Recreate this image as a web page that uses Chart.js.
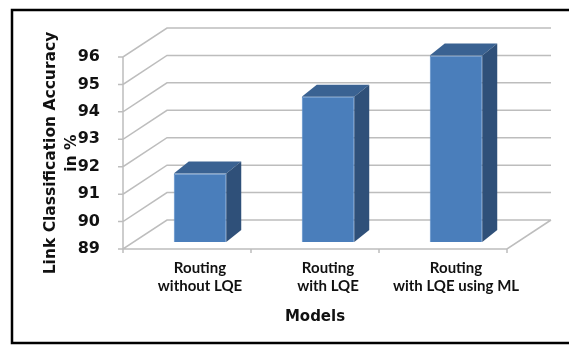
<!DOCTYPE html>
<html>
<head>
<meta charset="utf-8">
<script src="https://cdn.jsdelivr.net/npm/chart.js@4.4.1/dist/chart.umd.min.js"></script>
<style>
  html, body { margin: 0; padding: 0; background: #fff; }
</style>
</head>
<body>
<canvas id="chart" width="569" height="345"></canvas>
<script>
const models = [["Routing", "without LQE"], ["Routing", "with LQE"], ["Routing", "with LQE using ML"]];
const accuracy = [91.5, 94.3, 95.8];
const yTicks = [89, 90, 91, 92, 93, 94, 95, 96];

// fake 3D: back wall offset, bars pushed a bit into the floor, bar depth
const WALL = { dx: 44, dy: -29 };
const SHIFT = { dx: 13, dy: -7 };
const DEPTH = { dx: 15, dy: -12 };

const threeD = {
    id: "threeD",
    beforeDraw(chart) {
        const ctx = chart.ctx;
        ctx.save();
        ctx.fillStyle = "#fff";
        ctx.fillRect(0, 0, chart.width, chart.height);
        ctx.strokeStyle = "#000";
        ctx.lineWidth = 2.5;
        ctx.strokeRect(12, 10, chart.width + 20, 333);
        ctx.restore();
    },
    beforeDatasetsDraw(chart) {
        const { ctx, chartArea: a, scales: { x, y } } = chart;
        ctx.save();
        ctx.strokeStyle = "#bdbdbd";
        ctx.lineWidth = 1.5;
        ctx.beginPath();
        yTicks.forEach((v) => {
            const py = y.getPixelForValue(v);
            ctx.moveTo(a.left - 5, py);
            ctx.lineTo(a.left, py);
            ctx.lineTo(a.left + WALL.dx, py + WALL.dy);
            ctx.lineTo(a.right + WALL.dx, py + WALL.dy);
        });
        ctx.moveTo(a.left, a.top);
        ctx.lineTo(a.left, a.bottom);
        ctx.lineTo(a.right, a.bottom);
        ctx.lineTo(a.right + WALL.dx, a.bottom + WALL.dy);
        for (let i = 0; i <= models.length; i++) {
            const px = x.getPixelForValue(i - 0.5);
            ctx.moveTo(px, a.bottom);
            ctx.lineTo(px, a.bottom + 4);
        }
        ctx.stroke();
        ctx.restore();

        // bars are drawn in a plane slightly behind the front edge
        ctx.save();
        ctx.translate(SHIFT.dx, SHIFT.dy);
    },
    afterDatasetsDraw(chart) {
        const ctx = chart.ctx;
        const b = chart.scales.y.getPixelForValue(yTicks[0]);
        chart.getDatasetMeta(0).data.forEach((bar) => {
            const l = bar.x - bar.width / 2, r = bar.x + bar.width / 2;
            const t = bar.y;
            ctx.fillStyle = "#3a6292";
            ctx.beginPath();
            ctx.moveTo(l, t);
            ctx.lineTo(l + DEPTH.dx, t + DEPTH.dy);
            ctx.lineTo(r + DEPTH.dx, t + DEPTH.dy);
            ctx.lineTo(r, t);
            ctx.closePath();
            ctx.fill();
            ctx.fillStyle = "#2f5079";
            ctx.beginPath();
            ctx.moveTo(r, t);
            ctx.lineTo(r + DEPTH.dx, t + DEPTH.dy);
            ctx.lineTo(r + DEPTH.dx, b + DEPTH.dy);
            ctx.lineTo(r, b);
            ctx.closePath();
            ctx.fill();
        });
        ctx.restore();
    }
};

const ctx = document.getElementById("chart").getContext("2d");

new Chart(ctx, {
    type: "bar",
    data: {
        labels: models,
        datasets: [
            {
                label: "Accuracy",
                data: accuracy,
                backgroundColor: "#4a7ebb",
                borderColor: "#5a8cc8",
                borderWidth: 1,
                borderSkipped: false,
                barPercentage: 0.41,
                categoryPercentage: 1,
            },
        ],
    },
    options: {
        responsive: false,
        animation: false,
        layout: { padding: { left: 0, top: 57, right: 62, bottom: 15 } },
        plugins: {
            legend: { display: false },
            tooltip: { enabled: false },
        },
        scales: {
            x: {
                grid: { display: false },
                border: { display: false },
                ticks: {
                    color: "#111",
                    font: { family: "Lato", weight: "bold", size: 15 },
                    padding: 2,
                    labelOffset: 13,
                    maxRotation: 0,
                    autoSkip: false,
                },
                title: {
                    display: true,
                    text: "Models",
                    color: "#111",
                    font: { family: "DejaVu Sans", weight: "bold", size: 15 },
                    padding: { top: 0, bottom: 3.5 },
                },
                afterFit: (scale) => { scale.height = 81; },
            },
            y: {
                min: 89,
                max: 96,
                grid: { display: false },
                border: { display: false },
                ticks: {
                    stepSize: 1,
                    color: "#111",
                    font: { family: "DejaVu Sans", weight: "bold", size: 16 },
                    padding: 15,
                },
                title: {
                    display: true,
                    text: ["Link Classification Accuracy", "in %"],
                    color: "#111",
                    font: { family: "DejaVu Sans", weight: "bold", size: 15.5, lineHeight: 1.35 },
                    padding: { top: 40.5, bottom: 0 },
                },
                afterFit: (scale) => { scale.width = 123; },
            },
        },
    },
    plugins: [threeD],
});
</script>
</body>
</html>
